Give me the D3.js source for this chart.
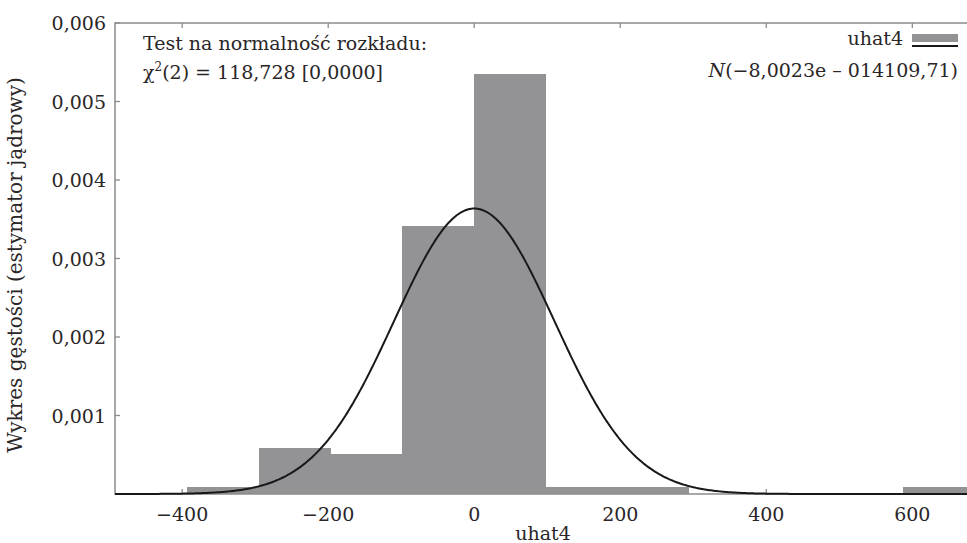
<!DOCTYPE html>
<html>
<head>
<meta charset="utf-8">
<script src="https://cdn.jsdelivr.net/npm/d3@7"></script>
<style>
  body { margin: 0; background: #fff; }
  svg text { font-family: "DejaVu Serif", "Liberation Serif", serif; fill: #2a2627; }
</style>
</head>
<body>
<svg id="chart" width="967" height="543"></svg>
<script>
// histogram bins (edges) and densities
const binEdges = [-393, -295, -197, -99, -1, 97, 195, 293, 391, 489, 587, 685];
const densities = [0.000085, 0.00059, 0.00051, 0.00342, 0.00535, 0.000085, 0.000085, 0, 0, 0, 0.000085];

// fitted normal from the legend
const normMean = -8.0023e-14;
const normSd = 109.71;

const xTicks = [-400, -200, 0, 200, 400, 600];
const yTicks = [0.001, 0.002, 0.003, 0.004, 0.005, 0.006];

const svg = d3.select('#chart');
const plotLeft = 115, plotRight = 970, plotTop = 23, plotBottom = 494;

const x = d3.scaleLinear().domain([-492, 679]).range([plotLeft, plotRight]);
const y = d3.scaleLinear().domain([0, 0.006]).range([plotBottom, plotTop]);

const fmt = d => d3.format('.3f')(d).replace('.', ',');
const axisColor = '#8c8c8c';

/// ticks first so bars sit on top of them
const tickLen = 5;
const g = svg.append('g').attr('stroke', axisColor).attr('stroke-width', 1.3);
xTicks.forEach(t => {
  g.append('line').attr('x1', x(t)).attr('x2', x(t)).attr('y1', plotBottom).attr('y2', plotBottom - tickLen);
  g.append('line').attr('x1', x(t)).attr('x2', x(t)).attr('y1', plotTop).attr('y2', plotTop + tickLen);
});
yTicks.forEach(t => {
  g.append('line').attr('x1', plotLeft).attr('x2', plotLeft + tickLen).attr('y1', y(t)).attr('y2', y(t));
});

/// bars
const bins = densities.map((d, i) => ({x0: binEdges[i], x1: binEdges[i + 1], d: d}));
svg.append('g').attr('shape-rendering', 'crispEdges').selectAll('rect')
  .data(bins.filter(b => b.d > 0))
  .enter().append('rect')
  .attr('x', b => x(b.x0))
  .attr('width', b => x(b.x1) - x(b.x0) + 0.5)
  .attr('y', b => y(b.d))
  .attr('height', b => y(0) - y(b.d))
  .attr('fill', '#939396');

/// frame
svg.append('path')
  .attr('d', `M${plotRight},${plotTop}H${plotLeft}V${plotBottom}H${plotRight}`)
  .attr('fill', 'none').attr('stroke', axisColor).attr('stroke-width', 1.5);

/// normal density curve
const pdf = v => Math.exp(-0.5 * Math.pow((v - normMean) / normSd, 2)) / (normSd * Math.sqrt(2 * Math.PI));
const xs = d3.range(-492, 680, 2);
svg.append('path')
  .datum(xs)
  .attr('fill', 'none').attr('stroke', '#1a1718').attr('stroke-width', 2)
  .attr('d', d3.line().x(v => x(v)).y(v => y(pdf(v))));

/// tick labels
svg.append('g').selectAll('text')
  .data(xTicks).enter().append('text')
  .attr('x', d => x(d)).attr('y', 521)
  .attr('text-anchor', 'middle').style('font-size', '19px')
  .text(d => d < 0 ? '\u2212' + Math.abs(d) : d);

svg.append('g').selectAll('text')
  .data(yTicks).enter().append('text')
  .attr('x', 106).attr('y', d => y(d) + 7)
  .attr('text-anchor', 'end').style('font-size', '19px')
  .text(fmt);

/// axis titles
svg.append('text')
  .attr('x', 543).attr('y', 540)
  .attr('text-anchor', 'middle').style('font-size', '19px')
  .text('uhat4');

svg.append('text')
  .attr('transform', 'translate(22,265) rotate(-90)')
  .attr('text-anchor', 'middle').style('font-size', '20px')
  .text('Wykres gęstości (estymator jądrowy)');

/// test text
svg.append('text').attr('x', 143).attr('y', 50).style('font-size', '19px')
  .text('Test na normalność rozkładu:');
const chi = svg.append('text').attr('x', 143).attr('y', 79).style('font-size', '19px');
chi.append('tspan').text('χ');
chi.append('tspan').attr('dy', -8).style('font-size', '12px').text('2');
chi.append('tspan').attr('dy', 8).text('(2) = 118,728 [0,0000]');

/// legend
svg.append('text').attr('x', 903).attr('y', 45).attr('text-anchor', 'end').style('font-size', '19px')
  .text('uhat4');
svg.append('rect').attr('x', 912).attr('y', 34).attr('width', 46).attr('height', 8).attr('fill', '#939396');
svg.append('line').attr('x1', 912).attr('x2', 958).attr('y1', 46).attr('y2', 46)
  .attr('stroke', '#1a1718').attr('stroke-width', 2);

const nt = svg.append('text').attr('x', 958).attr('y', 77).attr('text-anchor', 'end').style('font-size', '19px');
nt.append('tspan').style('font-style', 'italic').text('N');
nt.append('tspan').text('(\u22128,0023e \u2013 014109,71)');
</script>
</body>
</html>
